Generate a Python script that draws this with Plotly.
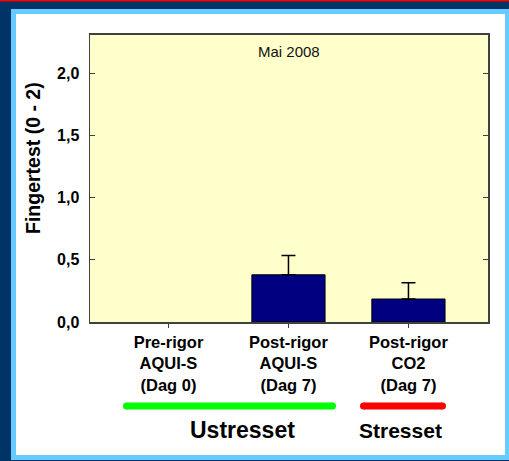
import plotly.graph_objects as go

categories = ["Pre-rigor<br>AQUI-S<br>(Dag 0)", "Post-rigor<br>AQUI-S<br>(Dag 7)", "Post-rigor<br>CO2<br>(Dag 7)"]
values = [0.0, 0.38, 0.185]
errors_plus = [None, 0.155, 0.13]
y_ticks = [0.0, 0.5, 1.0, 1.5, 2.0]
title_text = "Mai 2008"
y_title = "Fingertest (0 - 2)"
group_labels = ["Ustresset", "Stresset"]

W, H = 509, 461
L, R, T, B = 90, 488, 35, 322  # plot area pixel bounds

def px(x):
    return (x - L) / (R - L)

def py(y):
    return (B - y) / (B - T)

FONT = "Arial, Liberation Sans, sans-serif"

idx = list(range(len(values)))

fig = go.Figure()
fig.add_trace(go.Bar(
    x=idx, y=values,
    width=0.61,
    hoverinfo="skip",
    marker=dict(color="#000080",
                line=dict(color="#000000", width=[0 if v == 0 else 1 for v in values])),
))
err_idx = [i for i in idx if errors_plus[i] is not None]
fig.add_trace(go.Scatter(
    x=err_idx, y=[values[i] for i in err_idx],
    mode="markers", hoverinfo="skip",
    marker=dict(size=1, color="rgba(0,0,0,0)"),
    error_y=dict(type="data", symmetric=False,
                 array=[errors_plus[i] for i in err_idx],
                 arrayminus=[0 for _ in err_idx],
                 color="#000000", thickness=1.5, width=7),
))

shapes = []
def rect(x0, y0, x1, y1, color):
    shapes.append(dict(type="rect", xref="paper", yref="paper",
                       x0=px(x0), x1=px(x1), y0=py(y1), y1=py(y0),
                       fillcolor=color, line=dict(width=0), layer="below"))

rect(0, 0, W, 1.5, "#FF0000")
rect(11, 9, W + 2, 460, "#66CCFF")
rect(16, 14, 505, 455, "#FFFFFF")
rect(L, T, R, B, "#FFFFCC")

def rounded_bar(x0, x1, yc, thick, color):
    r = thick / 2
    shapes.append(dict(type="line", xref="paper", yref="paper",
                       x0=px(x0 + r), x1=px(x1 - r), y0=py(yc), y1=py(yc),
                       line=dict(color=color, width=thick), layer="above"))
    for cx in (x0 + r, x1 - r):
        shapes.append(dict(type="circle", xref="paper", yref="paper",
                           x0=px(cx - r), x1=px(cx + r), y0=py(yc + r), y1=py(yc - r),
                           fillcolor=color, line=dict(width=0), layer="above"))

rounded_bar(123, 336, 406, 7, "#00FF00")
rounded_bar(360, 446, 406, 7, "#FF0000")

annotations = [
    dict(text=title_text, x=0.5, y=py(51), xref="paper", yref="paper",
         showarrow=False, xanchor="center", yanchor="middle",
         font=dict(family=FONT, size=15, color="#111111")),
    dict(text=group_labels[0], x=px(242), y=py(430), xref="paper", yref="paper",
         showarrow=False, xanchor="center", yanchor="middle",
         font=dict(family=FONT, size=23, color="#000000", weight="bold")),
    dict(text=group_labels[1], x=px(400), y=py(430), xref="paper", yref="paper",
         showarrow=False, xanchor="center", yanchor="middle",
         font=dict(family=FONT, size=21, color="#000000", weight="bold")),
    dict(text=y_title, x=px(33), y=py(158), xref="paper", yref="paper",
         showarrow=False, xanchor="center", yanchor="middle", textangle=-90,
         font=dict(family=FONT, size=19.5, color="#000000", weight="bold")),
]

fig.update_layout(
    width=W, height=H,
    margin=dict(l=L, r=W - R, t=T, b=H - B, pad=0),
    paper_bgcolor="#003366",
    plot_bgcolor="#FFFFCC",
    separators=", ",
    showlegend=False,
    hovermode=False,
    shapes=shapes,
    annotations=annotations,
    bargap=0,
    xaxis=dict(
        range=[-0.654, 2.663], tickmode="array", tickvals=idx, ticktext=categories,
        showgrid=False, zeroline=False,
        showline=True, linecolor="#404040", linewidth=2, mirror=True,
        ticks="outside", ticklen=4, tickwidth=1, tickcolor="#404040",
        tickfont=dict(family=FONT, size=16.5, color="#000000", weight="bold"),
    ),
    yaxis=dict(
        range=[0, 2.31], tickmode="array", tickvals=y_ticks, tickformat=".1f",
        showgrid=False, zeroline=False,
        showline=True, linecolor="#404040", linewidth=1.5, mirror="ticks",
        ticks="inside", ticklen=5, tickwidth=1, tickcolor="#404040",
        ticklabelstandoff=6,
        tickfont=dict(family=FONT, size=16, color="#000000", weight="bold"),
    ),
)

fig.write_html(
    "out.html",
    config={"displayModeBar": False, "staticPlot": True},
    post_script="document.body.style.margin='0';document.body.style.overflow='hidden';"
                "document.documentElement.style.overflow='hidden';",
)
